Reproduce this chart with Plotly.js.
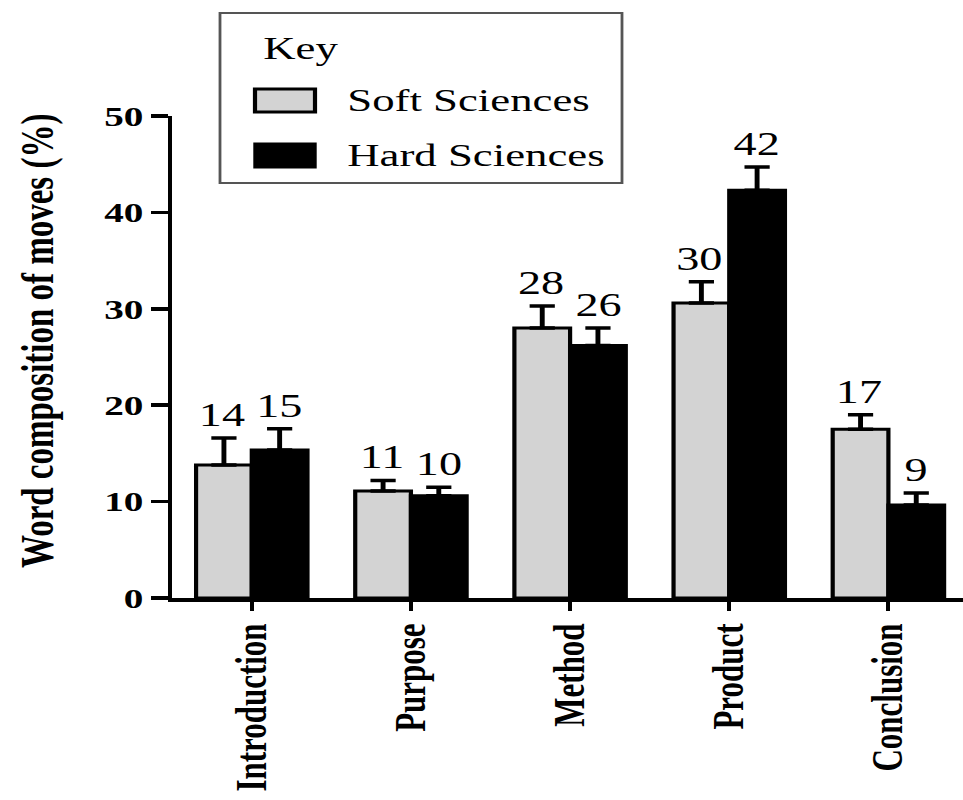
<!DOCTYPE html>
<html>
<head>
<meta charset="utf-8">
<script src="https://cdn.plot.ly/plotly-3.0.1.min.js"></script>
<style>
  html, body { margin: 0; padding: 0; background: #ffffff; overflow: hidden; }
  #wrap { width: 963px; height: 800px; overflow: hidden; }
  #chart { width: 688px; height: 800px; transform: scaleX(1.4); transform-origin: 0 0; }
</style>
</head>
<body>
<div id="wrap"><div id="chart"></div></div>
<script>
// ---- data ----
const categories = ['Introduction', 'Purpose', 'Method', 'Product', 'Conclusion'];
const seriesNames = ['Soft Sciences', 'Hard Sciences'];
const softValues = [13.8, 11.1, 28.0, 30.6, 17.5];
const softErrors = [2.8, 1.1, 2.3, 2.2, 1.5];
const hardValues = [15.35, 10.6, 26.2, 42.3, 9.65];
const hardErrors = [2.2, 0.9, 1.8, 2.4, 1.25];
const softLabels = ['14', '11', '28', '30', '17'];
const hardLabels = ['15', '10', '26', '42', '9'];
const yTickValues = [0, 10, 20, 30, 40, 50];
const legendTitle = 'Key';
const yTitle = 'Word composition of moves (%)';

// ---- layout geometry ----
const SX = 1.4;              // horizontal stretch applied by CSS
const W = 688, H = 800;
const ML = 123, MR = 0, MT = 116, MB = 202;
const plotW = W - ML - MR, plotH = H - MT - MB;
const FONT = '"Liberation Serif", "Times New Roman", Times, serif';
const SOFT = '#d3d3d3', HARD = '#000000';

// outer-pixel -> paper coordinate helpers (layout only)
const px = v => (v / SX - ML) / plotW;
const py = v => (H - MB - v) / plotH;

const zeros = categories.map(() => 0);

const traces = [
  {
    type: 'bar', name: seriesNames[0], x: categories, y: softValues,
    marker: { color: SOFT, line: { color: '#000', width: 3 } },
    error_y: { type: 'data', symmetric: false, array: softErrors, arrayminus: zeros,
               color: '#000', thickness: 3.5, width: 9 },
    showlegend: false, hoverinfo: 'skip'
  },
  {
    type: 'bar', name: seriesNames[1], x: categories, y: hardValues,
    marker: { color: HARD, line: { color: '#000', width: 3 } },
    error_y: { type: 'data', symmetric: false, array: hardErrors, arrayminus: zeros,
               color: '#000', thickness: 3.5, width: 9 },
    showlegend: false, hoverinfo: 'skip'
  }
];

const annotations = [];
categories.forEach((c, i) => {
  annotations.push({ x: c, y: softValues[i] + softErrors[i], xref: 'x', yref: 'y',
    text: softLabels[i], showarrow: false, xshift: -21, yshift: 3, yanchor: 'bottom',
    font: { family: FONT, size: 33, color: '#000' } });
  annotations.push({ x: c, y: hardValues[i] + hardErrors[i], xref: 'x', yref: 'y',
    text: hardLabels[i], showarrow: false, xshift: 20, yshift: 3, yanchor: 'bottom',
    font: { family: FONT, size: 33, color: '#000' } });
});

// y-axis title (placed as rotated text to match the reference position)
annotations.push({ xref: 'paper', yref: 'paper', x: px(38), y: py(341), xanchor: 'center', yanchor: 'middle',
  textangle: -90, text: yTitle, showarrow: false,
  font: { family: FONT, size: 33, color: '#000', weight: 'bold' } });

// manual legend ("Key") with large swatches
annotations.push({ xref: 'paper', yref: 'paper', x: px(261), y: py(48), xanchor: 'left', yanchor: 'middle',
  text: legendTitle, showarrow: false, font: { family: FONT, size: 32, color: '#000' } });
annotations.push({ xref: 'paper', yref: 'paper', x: px(344), y: py(100), xanchor: 'left', yanchor: 'middle',
  text: seriesNames[0], showarrow: false, font: { family: FONT, size: 32, color: '#000' } });
annotations.push({ xref: 'paper', yref: 'paper', x: px(344), y: py(155), xanchor: 'left', yanchor: 'middle',
  text: seriesNames[1], showarrow: false, font: { family: FONT, size: 32, color: '#000' } });

const shapes = [
  { type: 'rect', xref: 'paper', yref: 'paper', x0: px(220), x1: px(622), y0: py(183), y1: py(13),
    line: { color: '#555', width: 2 }, fillcolor: 'rgba(0,0,0,0)' },
  { type: 'rect', xref: 'paper', yref: 'paper', x0: px(255), x1: px(315), y0: py(112), y1: py(89),
    line: { color: '#000', width: 3 }, fillcolor: SOFT },
  { type: 'rect', xref: 'paper', yref: 'paper', x0: px(254), x1: px(316), y0: py(168), y1: py(143),
    line: { color: '#000', width: 1 }, fillcolor: HARD }
];

const layout = {
  width: W, height: H,
  margin: { l: ML, r: MR, t: MT, b: MB, pad: 0 },
  paper_bgcolor: '#ffffff', plot_bgcolor: '#ffffff',
  barmode: 'group', bargap: 0.3, bargroupgap: 0,
  showlegend: false,
  font: { family: FONT, color: '#000' },
  xaxis: {
    type: 'category', range: [-0.5, 4.47], fixedrange: true,
    showline: true, linecolor: '#000', linewidth: 4,
    ticks: 'outside', ticklen: 9, tickwidth: 3, tickcolor: '#000',
    tickangle: -90, tickfont: { family: FONT, size: 31, color: '#000', weight: 'bold' },
    showgrid: false, zeroline: false, automargin: false
  },
  yaxis: {
    range: [0, 50], fixedrange: true, tickvals: yTickValues, ticktext: yTickValues.map(String),
    showline: true, linecolor: '#000', linewidth: 3,
    ticks: 'outside', ticklen: 12, tickwidth: 3.5, tickcolor: '#000',
    tickfont: { family: FONT, size: 28, color: '#000', weight: 'bold' },
    showgrid: false, zeroline: false, automargin: false
  },
  annotations: annotations,
  shapes: shapes
};

Plotly.newPlot('chart', traces, layout, { staticPlot: true, displayModeBar: false, responsive: false });
</script>
</body>
</html>
